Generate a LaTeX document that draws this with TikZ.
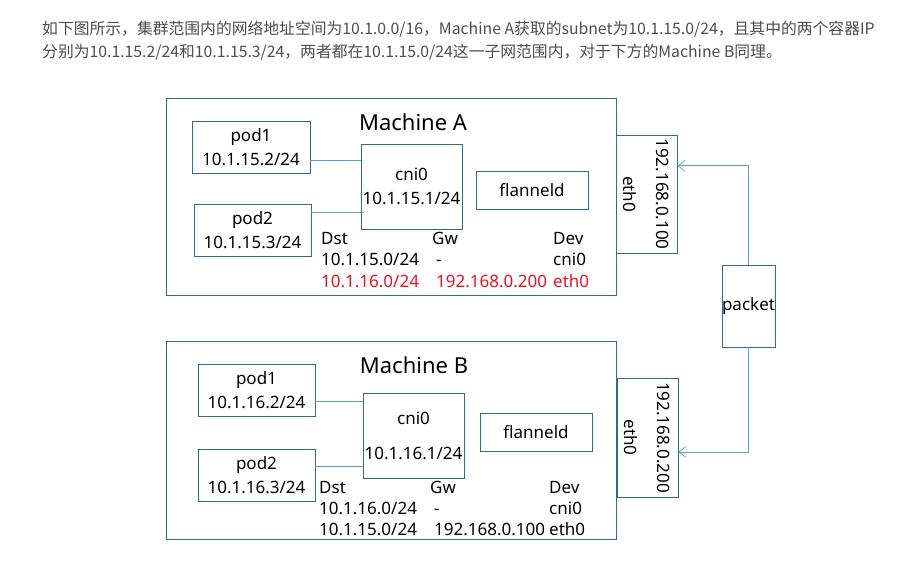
\documentclass[tikz,border=0pt]{standalone}
\usepackage{fontspec}
\setmainfont{Noto Sans}
\newfontfamily\cjk{Noto Sans CJK SC}
\usetikzlibrary{calc,arrows.meta}
\usepackage{xcolor}
\definecolor{boxline}{RGB}{46,108,143}
\definecolor{wire}{RGB}{86,160,214}
\definecolor{note}{RGB}{77,77,77}
\definecolor{hot}{RGB}{235,20,30}

\begin{document}
\begin{tikzpicture}[x=1pt,y=-1pt]
      \tikzstyle{machine} = [rectangle, draw=boxline, line width=0.8pt, inner sep=0pt]
      \tikzstyle{box} = [rectangle, draw=boxline, line width=0.8pt, align=center, font=\fontsize{17}{24}\selectfont, inner sep=0pt]
      \tikzstyle{cell} = [anchor=west, inner sep=0pt, text height=12.5pt, text depth=3pt, font=\fontsize{17}{20}\selectfont]
      \tikzstyle{wire} = [draw=wire, line width=0.7pt]
      \tikzstyle{feed} = [wire, -{Straight Barb[length=7pt,width=11pt]}]
      \useasboundingbox (0,0) rectangle (899,560);

      % text above the picture
      \node[anchor=west, inner sep=0pt, text=note, font=\cjk\fontsize{15.8}{18}\selectfont] (note1) at (42,29) {如下图所示，集群范围内的网络地址空间为10.1.0.0/16，Machine A获取的subnet为10.1.15.0/24，且其中的两个容器IP};
      \node[anchor=west, inner sep=0pt, text=note, font=\cjk\fontsize{15.8}{18}\selectfont] (note2) at (42,52) {分别为10.1.15.2/24和10.1.15.3/24，两者都在10.1.15.0/24这一子网范围内，对于下方的Machine B同理。};

      % Machine A
      \node[machine, minimum width=450, minimum height=197] (mA) at (391,196.5) {};
      \node[font=\fontsize{22}{24}\selectfont] (titleA) at (413,122) {Machine A};
      \node[box, minimum width=118, minimum height=52] (podA1) at (251,147) {pod1\\10.1.15.2/24};
      \node[box, minimum width=117, minimum height=52] (podA2) at (252.5,230) {pod2\\10.1.15.3/24};
      \node[box, minimum width=101, minimum height=85] (cniA) at (411.5,186.5) {cni0\\10.1.15.1/24};
      \node[box, minimum width=112, minimum height=38] (flA) at (532,190) {flanneld};
      \node[box, rotate=-90, minimum width=118, minimum height=61] (ethA) at (646.5,194) {192.168.0.100\\[9pt]eth0};
      \draw[wire] (podA1.east |- 0,160) -- (cniA.west |- 0,160);
      \draw[wire] (podA2.east |- 0,212) -- ([xshift=3pt]cniA.west |- 0,212);

      \node[cell] (dstA) at (321,240) {Dst};
      \node[cell] (gwA) at (432,240) {Gw};
      \node[cell] (devA) at (553,240) {Dev};
      \node[cell] (dstA1) at (321,261) {10.1.15.0/24};
      \node[cell] (gwA1) at (436,261) {-};
      \node[cell] (devA1) at (553,261) {cni0};
      \node[cell, text=hot] (dstA2) at (321,283) {10.1.16.0/24};
      \node[cell, text=hot] (gwA2) at (436,283) {192.168.0.200};
      \node[cell, text=hot] (devA2) at (553,283) {eth0};

      % Machine B
      \node[machine, minimum width=450, minimum height=198] (mB) at (391,440) {};
      \node[font=\fontsize{22}{24}\selectfont] (titleB) at (414,365) {Machine B};
      \node[box, minimum width=117, minimum height=52] (podB1) at (256.5,390) {pod1\\10.1.16.2/24};
      \node[box, minimum width=117, minimum height=52] (podB2) at (256.5,475) {pod2\\10.1.16.3/24};
      \node[box, minimum width=101, minimum height=85] (cniB) at (413.5,435.5) {cni0\\[11pt]10.1.16.1/24};
      \node[box, minimum width=112, minimum height=38] (flB) at (536,432) {flanneld};
      \node[box, rotate=-90, minimum width=119, minimum height=61] (ethB) at (647.5,437.5) {192.168.0.200\\[9pt]eth0};
      \draw[wire] (podB1.east |- 0,401) -- (cniB.west |- 0,401);
      \draw[wire] (podB2.east |- 0,466) -- (cniB.west |- 0,466);

      \node[cell] (dstB) at (319,489) {Dst};
      \node[cell] (gwB) at (430,489) {Gw};
      \node[cell] (devB) at (549,489) {Dev};
      \node[cell] (dstB1) at (319,510) {10.1.16.0/24};
      \node[cell] (gwB1) at (434,510) {-};
      \node[cell] (devB1) at (549,510) {cni0};
      \node[cell] (dstB2) at (319,531) {10.1.15.0/24};
      \node[cell] (gwB2) at (434,531) {192.168.0.100};
      \node[cell] (devB2) at (549,531) {eth0};

      % packet between the two hosts
      \node[box, minimum width=53, minimum height=82] (pkt) at (748.5,306) {packet};
      \draw[feed] (pkt.north) |- ($(ethA.north west)!0.263!(ethA.north east)$);
      \draw[feed] (pkt.south) |- ($(ethB.north west)!0.62!(ethB.north east)$);
    \end{tikzpicture}
\end{document}
